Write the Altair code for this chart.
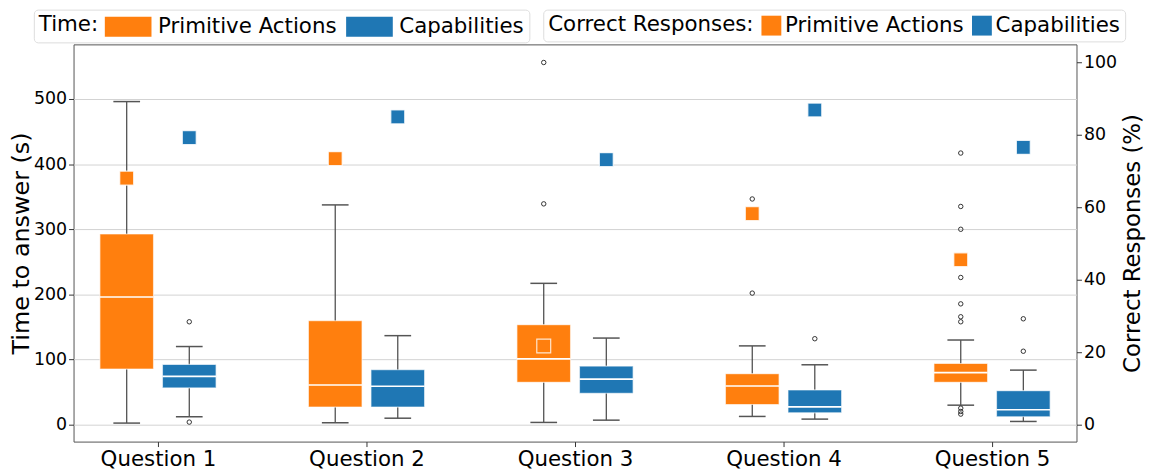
import altair as alt
import pandas as pd

questions = ["Question 1", "Question 2", "Question 3", "Question 4", "Question 5"]
series_names = ["Primitive Actions", "Capabilities"]
colors = ["#ff7f0e", "#1f77b4"]

# Time to answer (s) — box statistics per question
pa_whisker_low = [2.5, 3.0, 3.5, 12.7, 30.0]
pa_q1 = [85.4, 27.0, 65.0, 31.0, 65.0]
pa_median = [196.0, 61.0, 101.0, 59.5, 80.0]
pa_q3 = [292.7, 159.6, 153.5, 78.3, 94.0]
pa_whisker_high = [496.0, 337.4, 217.0, 121.0, 130.0]
pa_outliers = [[], [], [556, 339], [346.5, 202],
               [417, 335, 300, 226, 185.5, 165.7, 158, 25.4, 20.3, 16.3]]

cap_whisker_low = [12.2, 10.0, 7.0, 8.6, 5.0]
cap_q1 = [56.4, 27.0, 48.3, 18.3, 12.2]
cap_median = [74.2, 59.0, 70.0, 27.4, 23.0]
cap_q3 = [92.5, 84.4, 90.0, 53.4, 52.3]
cap_whisker_high = [120.0, 136.7, 133.0, 92.0, 83.8]
cap_outliers = [[158, 4], [], [], [132], [162.6, 112.8]]

# Correct responses (%)
pa_correct = [68.0, 73.4, 21.7, 58.2, 45.5]
cap_correct = [79.2, 84.9, 73.1, 86.8, 76.5]

stats = {
    "Primitive Actions": (pa_whisker_low, pa_q1, pa_median, pa_q3, pa_whisker_high, pa_outliers, pa_correct),
    "Capabilities": (cap_whisker_low, cap_q1, cap_median, cap_q3, cap_whisker_high, cap_outliers, cap_correct),
}

box_rows, out_rows, corr_rows = [], [], []
for s in series_names:
    lo, q1, med, q3, hi, outs, corr = stats[s]
    for i, q in enumerate(questions):
        box_rows.append(dict(qi=i, question=q, series=s, lo=lo[i], q1=q1[i], med=med[i], q3=q3[i], hi=hi[i]))
        for v in outs[i]:
            out_rows.append(dict(qi=i, question=q, series=s, value=v))
        corr_rows.append(dict(qi=i, question=q, series=s, pct=corr[i]))

box_df = pd.DataFrame(box_rows)
out_df = pd.DataFrame(out_rows)
corr_df = pd.DataFrame(corr_rows)

FONT = "DejaVu Sans"
OFF = 0.15
HALF = 0.1286
CAP = 0.064
xc_expr = f"datum.qi + (datum.series === 'Primitive Actions' ? {-OFF} : {OFF})"

x_scale = alt.Scale(domain=[-0.405, 4.405], nice=False, zero=False)
x_axis = alt.Axis(values=[0, 1, 2, 3, 4], labelExpr="'Question ' + (datum.value + 1)",
                  title=None, grid=False, domain=False, labelFontSize=21.5, labelColor="black",
                  tickSize=5, tickColor="#333", labelPadding=2, labelFlush=False)
yl_scale = alt.Scale(domain=[-25.9, 583.8], nice=False, zero=False)
yl_axis = alt.Axis(values=[0, 100, 200, 300, 400, 500], title="Time to answer (s)",
                   titleFontSize=24, titleFontWeight="normal", titleColor="black",
                   labelFontSize=17.5, labelColor="black", grid=True, gridColor="#d3d3d3",
                   domain=False, tickSize=5, tickColor="#333", labelPadding=2, titlePadding=0)
yr_scale = alt.Scale(domain=[-4.66, 104.9], nice=False, zero=False)
yr_axis = alt.Axis(orient="right", values=[0, 20, 40, 60, 80, 100], title="Correct Responses (%)",
                   titleFontSize=23, titleFontWeight="normal", titleColor="black", titleAngle=270,
                   titleBaseline="top", labelFontSize=17.5, labelColor="black", grid=False,
                   domain=False, tickSize=5, tickColor="#333", labelPadding=2, titlePadding=5)

color_scale = alt.Scale(domain=series_names, range=colors)

legend_common = dict(
    orient="none", legendY=-35, direction="horizontal",
    titleOrient="left", titleFontSize=21.5, titleFontWeight="normal", titleColor="black",
    titleFont=FONT, titleBaseline="middle", titleLimit=0,
    labelFontSize=21.5, labelColor="black", labelFont=FONT, labelLimit=0,
    symbolStrokeWidth=0, symbolOpacity=1, padding=5,
    fillColor="white", strokeColor="#dddddd", cornerRadius=4)

base = alt.Chart(box_df).transform_calculate(xc=xc_expr).transform_calculate(
    xlo=f"datum.xc - {HALF}", xhi=f"datum.xc + {HALF}",
    clo=f"datum.xc - {CAP}", chi=f"datum.xc + {CAP}")

whisk = base.mark_rule(color="#444", strokeWidth=1.2).encode(
    x=alt.X("xc:Q", scale=x_scale, axis=x_axis),
    y=alt.Y("lo:Q", scale=yl_scale, axis=yl_axis),
    y2="hi:Q")

caps = base.transform_fold(["lo", "hi"], as_=["end", "val"]).mark_rule(color="#555", strokeWidth=1.5).encode(
    x=alt.X("clo:Q", scale=x_scale, axis=x_axis), x2="chi:Q",
    y=alt.Y("val:Q", scale=yl_scale, axis=yl_axis))

boxes = base.mark_rect(stroke="white", strokeOpacity=0.6, strokeWidth=1.2).encode(
    x=alt.X("xlo:Q", scale=x_scale, axis=x_axis), x2="xhi:Q",
    y=alt.Y("q1:Q", scale=yl_scale, axis=yl_axis), y2="q3:Q",
    color=alt.Color("series:N", scale=color_scale, legend=alt.Legend(
        title="Time:", legendX=-40, titlePadding=18, labelOffset=18, columnPadding=8,
        symbolType="M-2,-0.86H2V0.86H-2Z", symbolSize=552, **legend_common)))

meds = base.mark_rule(color="white", strokeWidth=1.6).encode(
    x=alt.X("xlo:Q", scale=x_scale, axis=x_axis), x2="xhi:Q",
    y=alt.Y("med:Q", scale=yl_scale, axis=yl_axis))

outl = alt.Chart(out_df).transform_calculate(xc=xc_expr).mark_point(
    shape="circle", filled=False, size=20, stroke="#333", strokeWidth=1, opacity=1).encode(
    x=alt.X("xc:Q", scale=x_scale, axis=x_axis),
    y=alt.Y("value:Q", scale=yl_scale, axis=yl_axis))

left = alt.layer(whisk, caps, boxes, meds, outl)

right = alt.Chart(corr_df).transform_calculate(xc=xc_expr).mark_square(
    size=196, opacity=1, stroke="white", strokeWidth=1.2, strokeOpacity=0.8).encode(
    x=alt.X("xc:Q", scale=x_scale, axis=x_axis),
    y=alt.Y("pct:Q", scale=yr_scale, axis=yr_axis),
    color=alt.Color("series:N", scale=color_scale, legend=alt.Legend(
        title="Correct Responses:", legendX=473, titlePadding=6, labelOffset=3, columnPadding=7,
        symbolType="square", symbolSize=400, **legend_common)))

chart = alt.layer(left, right).resolve_scale(y="independent", color="independent").properties(
    width=1010, height=400,
    autosize=alt.AutoSizeParams(type="none"),
    padding={"left": 66, "top": 35, "right": 70, "bottom": 30},
).configure(font=FONT).configure_view(stroke="#555", strokeWidth=1)

chart.save("out.html", embed_options={"renderer": "svg", "actions": False})
